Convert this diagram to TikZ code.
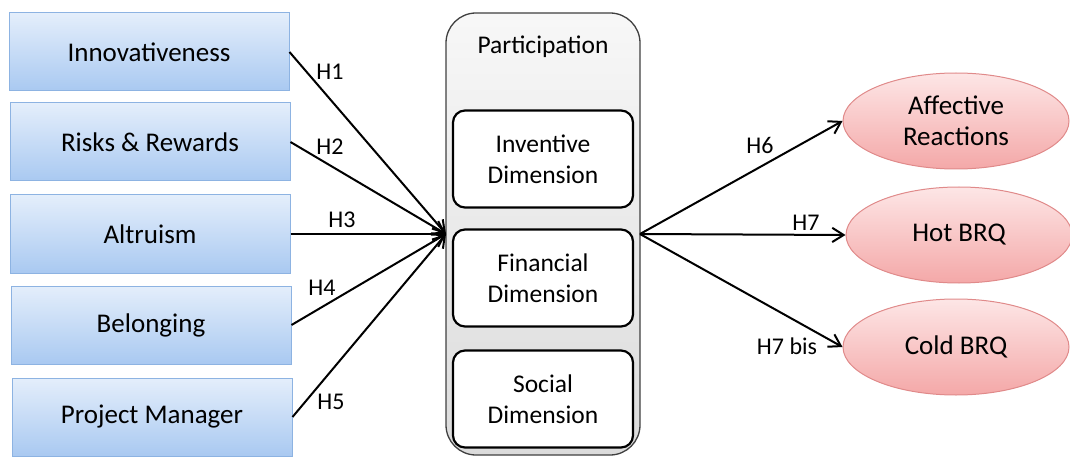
\documentclass[tikz,border=0pt]{standalone}
\usepackage{fontspec}
\setmainfont{Carlito}
\usetikzlibrary{arrows.meta,positioning,shapes.geometric}

\definecolor{boxline}{HTML}{8DB3E2}
\definecolor{boxtop}{HTML}{E4EEFB}
\definecolor{boxbot}{HTML}{A9C9F1}
\definecolor{ovline}{HTML}{E08A8A}
\definecolor{ovtop}{HTML}{FDE6E6}
\definecolor{ovbot}{HTML}{F4A8A8}

\begin{document}
\begin{tikzpicture}[x=1pt,y=-1pt,
  driver/.style={draw=boxline,line width=1pt,top color=boxtop,bottom color=boxbot,
                 minimum width=280pt,minimum height=78pt,inner sep=0pt,
                 font=\fontsize{27}{31}\selectfont},
  dimbox/.style={draw,line width=2.2pt,rounded corners=12pt,fill=white,
                 minimum width=180pt,minimum height=97pt,inner sep=0pt,align=center,
                 font=\fontsize{25.5}{31}\selectfont},
  outcome/.style={ellipse,draw=ovline,line width=1pt,top color=ovtop,bottom color=ovbot,
                  minimum width=226pt,minimum height=96pt,inner sep=0pt,align=center,
                  font=\fontsize{27}{31}\selectfont},
  hyp/.style={font=\fontsize{24}{28}\selectfont,inner sep=1pt},
  ar/.style={-{Straight Barb[length=4mm,width=5mm]},line width=2pt}]
  \useasboundingbox (0,0) rectangle (1070,457);
  % antecedents
  \node[driver] (inno) at (149,52) {Innovativeness};
  \node[driver] (risk) at (150,142) {Risks \& Rewards};
  \node[driver] (altr) at (150,234) {Altruism};
  \node[driver] (belo) at (151,325) {Belonging};
  \node[driver] (pman) at (152,417) {Project Manager};
  % participation
  \node[draw=black!75,line width=1.3pt,rounded corners=30pt,top color=gray!6,bottom color=gray!28,
        minimum width=194pt,minimum height=442pt,inner sep=0pt] (part) at (543,234) {};
  \node[font=\fontsize{25.5}{28}\selectfont] (ptitle) at (543,47) {Participation};
  \node[dimbox] (inv) at (543,159) {Inventive\\Dimension};
  \node[dimbox] (fin) at (543,278) {Financial\\Dimension};
  \node[dimbox] (soc) at (543,399) {Social\\Dimension};
  \coordinate (pin) at (446,234);
  \coordinate (pout) at (640,234);
  % outcomes
  \node[outcome] (affe) at (956,121) {Affective\\Reactions};
  \node[outcome] (hot) at (959,235) {Hot BRQ};
  \node[outcome] (cold) at (956,347) {Cold BRQ};
  % hypotheses
  \foreach \a in {inno,risk,altr,belo,pman} \draw[ar] (\a.east) -- (pin);
  \foreach \b in {affe,hot,cold} \draw[ar] (pout) -- (\b.west);
  \node[hyp] (h1) at (330,72) {H1};
  \node[hyp] (h2) at (330,147) {H2};
  \node[hyp] (h3) at (342,220) {H3};
  \node[hyp] (h4) at (322,288) {H4};
  \node[hyp] (h5) at (331,402) {H5};
  \node[hyp] (h6) at (760,145) {H6};
  \node[hyp] (h7) at (806,223) {H7};
  \node[hyp] (h7b) at (787,346) {H7 bis};
\end{tikzpicture}
\end{document}
